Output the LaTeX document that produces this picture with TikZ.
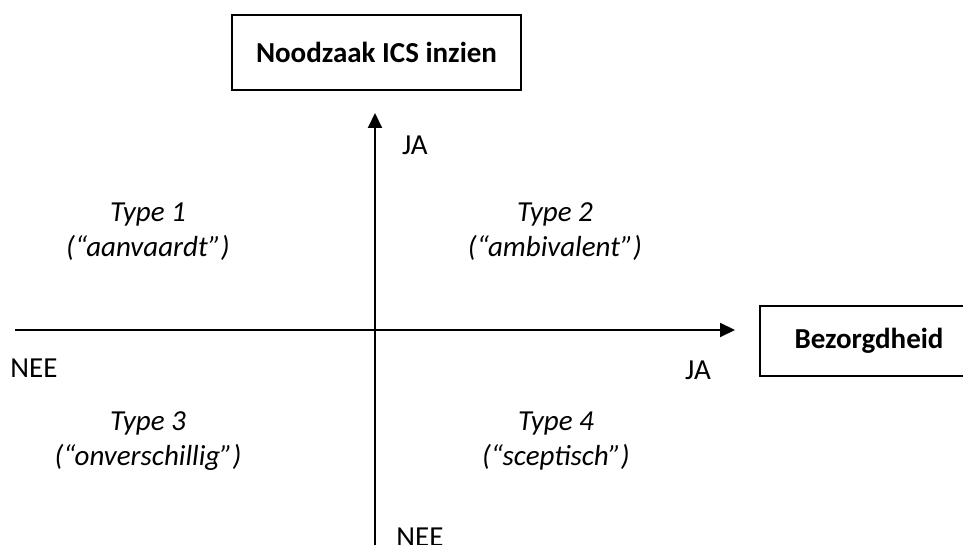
\documentclass[tikz,border=0pt]{standalone}
\usepackage{fontspec}
\setmainfont{Carlito}
\usetikzlibrary{arrows.meta}
\tikzset{
  axis/.style={line width=2pt,-{Triangle[length=15pt,width=14pt]}},
  titlebox/.style={draw,line width=1.5pt,font=\fontsize{29}{34}\selectfont\bfseries,inner sep=0pt,align=center},
  lbl/.style={font=\fontsize{29}{34}\selectfont,inner sep=0pt},
  quad/.style={font=\fontsize{29}{35}\selectfont\itshape,align=center,inner sep=0pt},
}
\begin{document}
\begin{tikzpicture}[x=1pt,y=-1pt]
\useasboundingbox (0,0) rectangle (963,545);
\clip (0,0) rectangle (963,545);
\node[titlebox,minimum width=289pt,minimum height=75pt] (noodzaak) at (376.5,52.5) {Noodzaak ICS inzien};
\node[titlebox,minimum width=218pt,minimum height=70pt] (bezorg) at (869,341) {Bezorgdheid};
\coordinate (xs) at (15,330);
\coordinate (xe) at (735,330);
\coordinate (ys) at (375,560);
\coordinate (ye) at (375,113);
\draw[axis] (xs) -- (xe);
\draw[axis] (ys) -- (ye);
\node[lbl] (jatop) at (415,145) {JA};
\node[lbl] (neeleft) at (34,368) {NEE};
\node[lbl] (jaright) at (698,370) {JA};
\node[lbl] (neebot) at (420,537) {NEE};
\node[quad] (t1) at (148,232) {Type 1\\(“aanvaardt”)};
\node[quad] (t2) at (555,232) {Type 2\\(“ambivalent”)};
\node[quad] (t3) at (148,441) {Type 3\\(“onverschillig”)};
\node[quad] (t4) at (556,441) {Type 4\\(“sceptisch”)};
\end{tikzpicture}
\end{document}
